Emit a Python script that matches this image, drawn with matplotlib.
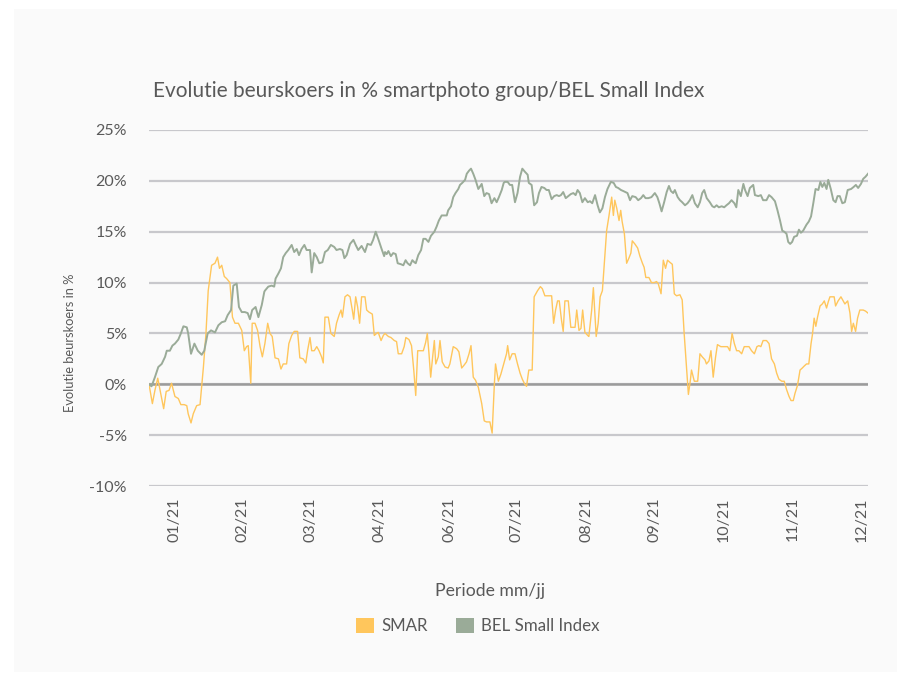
import numpy as np
import matplotlib
matplotlib.use('Agg')
import matplotlib.pyplot as plt
from matplotlib.patches import Patch, Rectangle

plt.rcParams['font.family'] = ['Lato', 'DejaVu Sans']

# trading day index since start of period, % change vs start
smar_day = [
    0, 1.2, 2.1, 3.1, 4.3, 5.2, 6.1, 7.1, 8.0, 9.2, 10.4, 11.3, 12.5, 13.4, 13.9, 14.9, 15.7, 16.9, 18.1, 19.3,
    20.2, 21.0, 22.2, 23.4, 24.3, 25.0, 25.8, 26.7, 27.5, 28.7, 29.6, 30.5, 31.7, 32.9, 33.8, 34.6, 35.2, 36.1, 36.6, 37.6,
    38.5, 39.4, 40.2,
    41.1, 42.1, 42.9, 43.7, 44.7, 45.9, 46.8, 47.6, 48.8, 49.6, 50.6, 51.5, 52.7, 53.5, 54.7, 55.6, 56.3, 57.1, 57.7, 58.6,
    59.5, 60.3, 61.2, 61.8, 62.4, 63.6, 64.5, 65.7, 66.5, 67.4, 68.1, 68.6, 69.5, 70.4, 71.3, 72.1, 72.6, 73.3, 74.0, 74.7,
    75.4, 76.6, 77.2, 78.0, 79.2, 79.9, 80.7, 81.3, 82.3, 83.1,
    83.7, 84.9, 85.8, 87.0, 87.8, 88.4, 89.6, 90.5, 91.1, 92.2, 93.1, 93.9, 94.6, 95.3, 96.5, 97.3, 98.1, 98.7, 99.3, 99.9,
    100.6, 101.2, 101.7, 102.6, 103.2, 104.0, 105.0, 106.1, 106.7, 107.9, 109.1, 109.9, 110.9, 111.8, 112.6, 113.5, 114.2,
    115.0, 115.8, 116.8, 118.0, 118.9, 119.7, 120.9, 121.7, 122.5, 122.9, 123.9, 124.8, 125.8,
    126.2, 126.8, 127.2, 127.9, 128.8, 129.8, 130.7, 131.6, 132.4, 133.3, 133.9, 134.7, 135.9, 136.6, 137.8, 138.8, 139.5,
    140.4, 141.6, 142.8, 143.5, 144.2, 144.9, 145.5, 146.3, 146.9, 147.5, 148.7, 149.6, 150.5, 151.1, 151.7, 152.5, 153.2,
    153.8, 154.6, 155.6, 156.0, 157.0, 157.6, 158.2, 158.6, 159.3, 160.0, 160.8, 161.5, 162.3, 163.1, 164.1, 164.7, 165.2,
    165.9, 166.7, 167.3, 167.8, 168.6,
    169.4, 170.2, 170.9, 171.4, 172.3, 173.3, 174.1, 175.0, 175.6, 176.2, 177.3, 178.2, 179.2, 180.0, 180.6, 181.6, 182.4,
    183.2, 183.9, 184.7, 185.6, 186.3, 187.1, 188.3, 189.1, 189.8, 190.7, 191.3, 192.0, 192.4, 193.4, 194.6, 195.4, 196.2,
    197.2, 197.7, 198.6, 199.3, 200.1, 200.9, 201.6, 202.8, 204.0, 205.2, 206.0, 206.8, 207.6, 208.4, 209.2, 210.2, 211.1,
    212.8, 213.7, 214.7, 215.6, 216.3, 217.0, 217.8, 219.0, 219.9, 220.8, 221.8, 222.6, 223.4, 224.4, 225.3, 226.1, 227.0,
    227.7, 228.5, 229.1, 230.0, 230.9, 231.7, 232.4, 233.2, 234.0, 234.8, 235.3, 235.9, 236.5, 237.1, 238.0, 238.8, 239.5,
    240.3, 240.9, 241.5, 242.3, 243.0, 243.5, 244.4, 245.4, 246.2, 246.8, 247.8, 248.6, 249.2, 249.8, 250.6, 251.3, 252.1,
    253.3, 254.1, 255.0,
]
smar_pct = [
    0.0, -1.9, -0.6, 0.6, -1.1, -2.4, -0.7, -0.6, 0.1, -1.2, -1.4, -2.0, -2.0, -2.1, -2.9, -3.8, -2.9, -2.1, -2.0, 1.7,
    5.0, 9.2, 11.7, 11.9, 12.5, 11.4, 11.7, 10.6, 10.4, 10.0, 6.6, 6.0, 6.0, 5.3, 3.3, 3.7, 3.8, 0.1, 6.0, 6.0,
    5.3, 3.7, 2.7,
    4.0, 6.0, 5.0, 4.7, 2.6, 2.5, 1.5, 2.0, 2.0, 4.0, 4.8, 5.2, 5.2, 2.6, 2.5, 2.1, 3.4, 4.6, 3.3, 3.3,
    3.7, 3.3, 2.7, 2.1, 6.6, 6.6, 5.0, 4.7, 6.0, 6.8, 7.3, 6.6, 8.6, 8.8, 8.6, 7.3, 6.4, 8.6, 7.6, 6.0,
    8.6, 8.6, 7.3, 7.1, 6.9, 4.8, 5.0, 5.1, 4.3, 4.8,
    5.0, 4.7, 4.6, 4.3, 4.2, 3.0, 3.0, 3.7, 4.6, 4.4, 3.8, 1.4, -1.1, 3.3, 3.3, 3.3, 4.1, 5.0, 3.0, 0.7,
    2.7, 4.3, 2.0, 2.7, 4.3, 2.2, 1.7, 1.6, 2.0, 3.7, 3.5, 3.2, 1.6, 1.9, 2.2, 3.0, 3.8,
    0.7, 0.4, -0.3, -1.9, -3.6, -3.7, -3.7, -4.8, 0.1, 2.0, 0.3, 1.0, 2.0,
    2.4, 3.0, 3.8, 2.4, 3.0, 3.0, 2.0, 1.1, 0.5, 0.0, -0.2, 1.4, 1.4, 8.6, 9.2, 9.6, 9.4,
    8.7, 8.7, 8.7, 6.0, 7.3, 8.2, 8.2, 6.3, 5.2, 8.2, 8.2, 5.6, 5.6, 5.6, 7.3, 5.3, 5.5,
    7.3, 5.1, 4.8, 4.7, 7.3, 9.5, 6.6, 4.7, 6.0, 8.6, 9.2, 11.9, 15.1, 16.5, 18.4, 16.6, 18.1,
    17.3, 16.1, 17.1, 16.0, 14.8,
    11.9, 12.4, 12.9, 14.1, 13.8, 13.4, 12.6, 11.9, 11.5, 10.5, 10.5, 10.0, 10.0, 10.1, 9.9, 8.9, 12.2,
    11.4, 12.2, 12.0, 11.8, 8.9, 8.7, 8.8, 8.3, 5.0, 1.4, -1.0, 0.4, 1.4, 0.3, 0.3, 3.0, 2.7,
    2.4, 2.0, 2.3, 3.3, 0.7, 2.6, 3.9, 3.7, 3.7, 3.7, 3.3, 5.0, 4.0, 3.3, 3.3, 3.0, 3.7,
    3.7, 3.3, 3.0, 3.7, 3.8, 3.7, 4.3, 4.3, 4.0, 2.5, 2.0, 1.1, 0.5, 0.3, 0.3, -0.5, -1.2,
    -1.6, -1.6, -0.9, -0.1, 1.4, 1.6, 1.8, 2.0, 2.0, 4.0, 4.9, 6.5, 5.7, 6.6, 7.7, 7.9, 8.2,
    7.5, 8.1, 8.6, 8.6, 8.6, 7.7, 8.2, 8.6, 8.2, 7.9, 8.2, 7.0, 5.2, 6.0, 5.2, 6.5, 7.3,
    7.3, 7.2, 7.0,
]

bel_day = [
    0, 0.9, 2.1, 3.3, 4.5, 5.7, 6.3, 7.4, 8.3, 9.2, 10.4, 11.3, 12.2, 13.4, 13.9, 14.9, 16.1, 17.3, 18.7, 19.6,
    20.8, 22.0, 23.4, 24.6, 25.8, 27.0, 27.9, 29.1, 29.9, 31.1, 31.9, 32.9, 34.0, 35.0, 35.8, 36.6, 37.8, 38.8, 40.0, 40.9,
    41.1, 42.3, 43.5, 44.4, 44.9, 45.9, 46.8, 47.6, 48.5, 49.4, 50.6, 51.5, 52.4, 53.2, 54.1, 55.1, 55.9, 57.1, 57.7, 58.6,
    59.5, 60.4, 61.5, 62.4, 63.4, 64.5, 65.7, 66.5, 67.7, 68.6, 69.3, 70.1, 71.3, 72.5, 73.3, 74.2, 75.4, 76.6, 77.5, 78.7,
    79.5, 80.4, 81.3, 82.5, 83.4,
    83.7, 84.3, 84.9, 85.8, 86.6, 87.5, 88.2, 89.4, 90.2, 91.0, 91.7, 92.6, 93.4, 94.1, 94.6, 95.5, 96.5, 97.3, 98.1, 99.1,
    100.0, 101.2, 102.0, 102.8, 103.8, 105.0, 105.6, 106.1, 107.1, 107.9, 108.7, 109.7, 110.3, 111.1, 112.1, 112.7, 113.5,
    114.2, 115.0, 115.8, 116.8, 118.0, 118.9, 119.7, 120.6, 121.5, 122.5, 123.3, 124.1, 125.1, 125.8,
    126.2, 127.2, 128.0, 128.8, 129.8, 130.7, 131.6, 132.4, 133.3, 134.3, 134.7, 135.7, 136.6, 137.6, 138.3, 139.2, 140.2,
    141.0, 141.8, 142.8, 143.7, 144.6, 145.4, 146.1, 146.9, 147.8, 148.7, 149.6, 150.5, 151.3, 152.0, 152.8, 153.7, 154.6,
    155.6, 156.4, 157.2, 158.2, 159.1, 159.9, 160.8, 161.7, 162.6, 163.8, 164.8, 165.6, 166.4, 167.4, 168.2,
    169.7, 170.6, 171.4, 172.6, 173.5, 174.5, 175.3, 176.1, 177.1, 178.2, 179.4, 180.3, 181.0, 181.8, 182.7, 183.6, 184.4,
    185.1, 185.9, 186.5, 187.5, 188.3, 189.1, 190.1, 191.0, 191.8, 192.7, 193.6, 194.6, 195.4, 196.2, 196.9, 197.8, 198.9,
    199.8, 200.5, 201.3, 202.1, 203.1, 204.0, 204.8, 205.7, 206.6, 207.6, 208.3, 209.0, 209.9, 210.8,
    211.4, 212.3, 213.1, 214.3, 214.9, 216.1, 217.0, 217.8, 219.0, 219.9, 220.8, 222.0, 222.9, 223.8, 224.6, 225.3, 226.1,
    226.7, 227.4, 228.1, 228.8, 229.8, 230.5, 231.2, 232.0, 233.2, 234.0, 234.8, 235.6, 236.4, 237.4, 238.1, 238.8, 239.5,
    240.3, 240.9, 241.8, 242.7, 243.5, 244.2, 245.0, 245.9, 246.8, 247.8, 249.0, 249.9, 250.7, 251.5, 252.5, 253.3, 254.1,
    255.0,
]
bel_pct = [
    0.0, -0.2, 0.7, 1.7, 2.0, 2.7, 3.3, 3.3, 3.8, 4.0, 4.4, 5.0, 5.7, 5.6, 5.0, 3.0, 4.0, 3.3, 2.9, 3.3,
    5.0, 5.3, 5.1, 5.8, 6.1, 6.2, 6.8, 7.3, 9.7, 9.9, 7.6, 7.1, 7.1, 7.0, 6.4, 7.3, 7.6, 6.6, 7.8, 9.1,
    9.2, 9.6, 9.7, 9.6, 10.4, 10.9, 11.4, 12.5, 12.9, 13.2, 13.7, 13.0, 13.3, 12.7, 13.3, 13.7, 13.2, 13.2, 11.0, 12.9,
    12.5, 11.9, 12.0, 13.0, 13.2, 13.7, 13.5, 13.2, 13.3, 13.2, 12.4, 12.7, 13.8, 14.2, 13.7, 13.2, 13.6, 13.0, 13.8, 13.7,
    14.2, 15.0, 14.3, 13.3, 12.6,
    13.0, 12.8, 13.1, 12.6, 12.9, 12.8, 11.9, 11.8, 11.7, 12.2, 11.9, 11.7, 12.2, 12.0, 11.9, 12.7, 13.2, 14.3, 14.3, 14.0,
    14.6, 15.0, 15.5, 16.1, 16.6, 16.6, 16.6, 17.1, 17.5, 18.4, 18.8, 19.2, 19.6, 19.8, 20.1, 20.7, 21.0,
    21.2, 20.7, 20.1, 19.2, 19.7, 18.5, 18.8, 18.7, 17.8, 18.3, 17.9, 18.4, 19.1, 19.8,
    19.9, 19.9, 19.6, 19.6, 17.9, 18.8, 20.4, 21.2, 20.9, 20.6, 19.8, 19.6, 17.6, 17.9, 18.8, 19.4, 19.3,
    19.1, 19.1, 18.2, 18.5, 18.6, 18.5, 18.6, 18.9, 18.3, 18.5, 18.7, 18.8, 18.6, 19.1, 18.8, 17.9, 18.3,
    17.9, 18.0, 17.8, 18.6, 17.6, 16.9, 17.3, 18.4, 19.2, 19.9, 19.8, 19.4, 19.3, 19.1, 19.0,
    18.8, 18.1, 18.5, 18.4, 18.1, 18.3, 18.6, 18.3, 18.3, 18.4, 18.8, 18.4, 17.8, 17.0, 17.9, 18.9, 19.5,
    19.0, 18.8, 19.1, 18.4, 18.1, 17.9, 17.6, 17.8, 18.1, 18.6, 17.8, 17.4, 17.9, 18.8, 19.1, 18.3, 17.9,
    17.5, 17.4, 17.6, 17.4, 17.5, 17.4, 17.6, 17.8, 18.1, 17.8, 17.4, 19.1, 18.5, 19.7,
    19.1, 18.5, 19.3, 19.6, 18.6, 18.5, 18.6, 18.1, 18.1, 18.6, 18.4, 18.0, 17.1, 16.1, 15.1, 15.0, 14.8,
    14.0, 13.8, 14.0, 14.5, 14.6, 15.2, 14.9, 15.1, 15.7, 16.0, 16.5, 17.8, 19.2, 19.1, 19.9, 19.4, 19.8,
    19.2, 20.1, 19.2, 18.1, 17.9, 18.5, 18.5, 17.8, 17.9, 19.1, 19.2, 19.4, 19.6, 19.3, 19.7, 20.2, 20.4,
    20.7,
]

month_labels = ['01/21', '02/21', '03/21', '04/21', '06/21', '07/21',
                '08/21', '09/21', '10/21', '11/21', '12/21']
month_pos = [8.9, 33.0, 57.4, 81.9, 106.4, 130.5, 155.0, 179.4, 203.9, 228.4, 252.8]
y_ticks = [-10, -5, 0, 5, 10, 15, 20, 25]

TXT = '#595959'
SMAR_COL = '#ffc65c'
BEL_COL = '#9aab98'

W, H = 910, 674
fig = plt.figure(figsize=(W / 100, H / 100), dpi=100)
fig.patch.set_facecolor('white')
fig.patches.append(Rectangle((14 / W, 2 / H), 883 / W, 663 / H, transform=fig.transFigure,
                             facecolor='#fafafa', edgecolor='none', zorder=-1))

ax = fig.add_axes([149 / W, 188 / H, 719 / W, 356 / H])
ax.set_facecolor('none')
ax.set_zorder(2)

ax.plot(smar_day, smar_pct, color=SMAR_COL, lw=1.0, zorder=3)
ax.plot(bel_day, bel_pct, color=BEL_COL, lw=1.4, zorder=4)

ax.set_xlim(0, 255)
ax.set_ylim(-10, 25)
ax.set_yticks(y_ticks)
ax.set_yticklabels([f'{v}%' for v in y_ticks])
ax.set_xticks(month_pos)
ax.set_xticklabels(month_labels, rotation=90)
ax.grid(axis='y', color='#c8c8cc', lw=1.6, zorder=1)
ax.axhline(0, color='#9b9b9b', lw=1.8, zorder=2)
for s in ax.spines.values():
    s.set_visible(False)
ax.tick_params(axis='y', length=0, pad=16, labelsize=11.5, labelcolor=TXT)
ax.tick_params(axis='x', length=0, pad=8, labelsize=11.5, labelcolor=TXT)

fig.text(153 / W, 1 - 91 / H, 'Evolutie beurskoers in % smartphoto group/BEL Small Index',
         ha='left', va='center', fontsize=15, color=TXT)
fig.text(70 / W, 1 - 343 / H, 'Evolutie beurskoers in %', rotation=90,
         ha='center', va='center', fontsize=9.3, color=TXT)
fig.text(490 / W, 1 - 591 / H, 'Periode mm/jj', ha='center', va='center', fontsize=12.7, color=TXT)

handles = [Patch(facecolor=SMAR_COL, label='SMAR'),
           Patch(facecolor=BEL_COL, label='BEL Small Index')]
fig.legend(handles=handles, loc='center', bbox_to_anchor=(478 / W, 1 - 626 / H), ncol=2,
           frameon=False, handlelength=1.06, handleheight=1.06, handletextpad=0.42,
           columnspacing=1.7, fontsize=12.2, labelcolor=TXT)

fig.savefig('out.png', dpi=100, facecolor=fig.get_facecolor())
